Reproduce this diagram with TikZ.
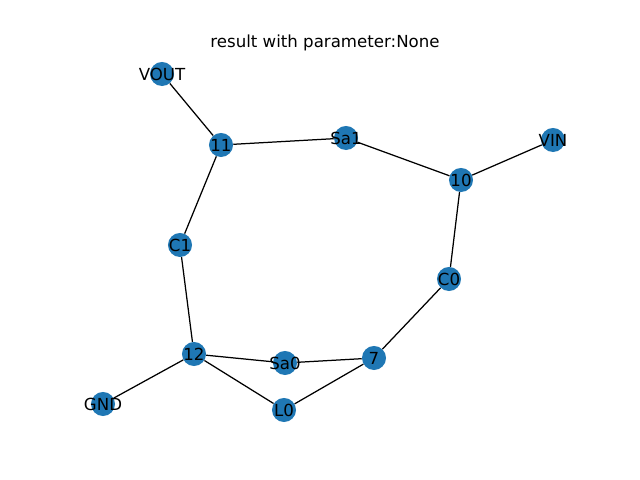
\documentclass[tikz,border=0pt]{standalone}
\usepackage{fontspec}
\setmainfont{DejaVu Sans}
\begin{document}
\begin{tikzpicture}[
        x=0.01in, y=-0.01in,
        every node/.style={circle, fill={rgb,255:red,31;green,119;blue,180}, inner sep=0pt, minimum size=0.24in, font=\fontsize{12}{14}\selectfont},
        link/.style={draw, line width=0.9pt}
    ]
        \useasboundingbox (0,0) rectangle (640,480);
        \node[fill=none] (title) at (325,43) {result with parameter:None};

        \node (vout) at (162,74) {\makebox[0pt]{VOUT}};
        \node (n11) at (221,145) {\makebox[0pt]{11}};
        \node (sa1) at (346,138) {\makebox[0pt]{Sa1}};
        \node (vin) at (553,140) {\makebox[0pt]{VIN}};
        \node (n10) at (461,180) {\makebox[0pt]{10}};
        \node (c1) at (180,245) {\makebox[0pt]{C1}};
        \node (c0) at (449,279) {\makebox[0pt]{C0}};
        \node (n12) at (194,354) {\makebox[0pt]{12}};
        \node (sa0) at (285,363) {\makebox[0pt]{Sa0}};
        \node (n7) at (374,358) {\makebox[0pt]{7}};
        \node (gnd) at (103,404) {\makebox[0pt]{GND}};
        \node (l0) at (284,410) {\makebox[0pt]{L0}};

        \draw[link] (vout) -- (n11);
        \draw[link] (n11) -- (sa1);
        \draw[link] (sa1) -- (n10);
        \draw[link] (n10) -- (vin);
        \draw[link] (n10) -- (c0);
        \draw[link] (c0) -- (n7);
        \draw[link] (n7) -- (sa0);
        \draw[link] (sa0) -- (n12);
        \draw[link] (n12) -- (l0);
        \draw[link] (l0) -- (n7);
        \draw[link] (n12) -- (gnd);
        \draw[link] (n12) -- (c1);
        \draw[link] (c1) -- (n11);
    \end{tikzpicture}
\end{document}
